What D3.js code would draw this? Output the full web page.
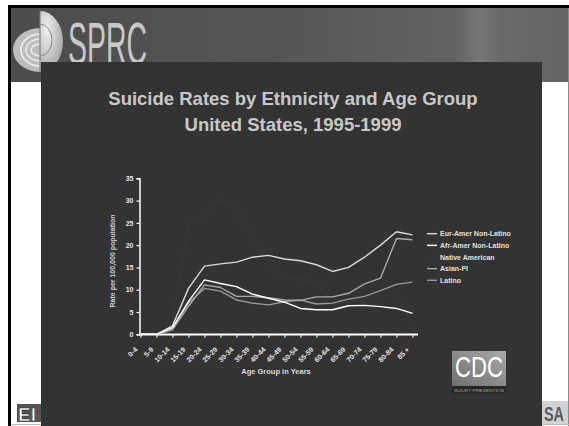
<!DOCTYPE html>
<html>
<head>
<meta charset="utf-8">
<script src="https://cdn.jsdelivr.net/npm/d3@7"></script>
<style>
  html, body { margin: 0; padding: 0; background: #fff; }
  svg { display: block; }
  text { font-family: "Liberation Sans", Arial, sans-serif; }
</style>
</head>
<body>
<div id="chart"></div>
<script>
const ageGroups = ["0-4", "5-9", "10-14", "15-19", "20-24", "25-29", "30-34", "35-39", "40-44",
  "45-49", "50-54", "55-59", "60-64", "65-69", "70-74", "75-79", "80-84", "85 +"];
const seriesNames = ["Eur-Amer Non-Latino", "Afr-Amer Non-Latino", "Native American", "Asian-PI", "Latino"];
const eurAmer  = [0, 0, 1.9, 10.3, 15.3, 15.8, 16.2, 17.3, 17.7, 16.9, 16.5, 15.6, 14.1, 15.0, 17.3, 20.0, 23.0, 22.3];
const afrAmer  = [0, 0, 1.5, 7.4, 12.2, 11.4, 10.7, 9.0, 8.1, 7.2, 5.8, 5.5, 5.5, 6.4, 6.5, 6.2, 5.8, 4.7];
const nativeAm = [0, 0, 2.5, 24.9, 27.0, 30.1, 27.9, 21.9, 15.2, 12.9, 12.3, 11.4, 7.5, 7.0, 8.0, 8.5, 9.2, 1.7];
const asianPI  = [0, 0, 1.0, 6.3, 11.1, 10.5, 8.5, 8.5, 8.2, 7.7, 7.6, 8.4, 8.4, 9.2, 11.3, 12.6, 21.5, 21.2];
const latino   = [0, 0, 1.2, 7.0, 10.3, 9.7, 7.7, 7.0, 6.6, 7.3, 7.7, 6.8, 7.0, 7.9, 8.5, 9.8, 11.2, 11.7];
const yTicks = [0, 5, 10, 15, 20, 25, 30, 35];

const colorMap = {
  "Eur-Amer Non-Latino": "#dadada",
  "Afr-Amer Non-Latino": "#ffffff",
  "Native American": "#383838",
  "Asian-PI": "#a8a8a8",
  "Latino": "#999999"
};

const drawSlide = (svg) => {
  const defs = svg.append("defs");
  const hg = defs.append("linearGradient").attr("id", "header-grad");
  [[0, "#4c4c4c"], [0.5, "#565656"], [0.8, "#636363"], [0.84, "#777"], [0.88, "#6a6a6a"], [1, "#636363"]]
    .forEach(([o, c]) => hg.append("stop").attr("offset", o).attr("stop-color", c));
  const lg = defs.append("radialGradient").attr("id", "logo-grad").attr("cx", 0.3).attr("cy", 0.3).attr("r", 0.9);
  lg.append("stop").attr("offset", 0).attr("stop-color", "#f0f0f0");
  lg.append("stop").attr("offset", 1).attr("stop-color", "#9a9a9a");
  const cg = defs.append("linearGradient").attr("id", "cdc-grad").attr("x1", 0).attr("y1", 1).attr("x2", 1).attr("y2", 0);
  cg.append("stop").attr("offset", 0).attr("stop-color", "#707070");
  cg.append("stop").attr("offset", 1).attr("stop-color", "#a8a8a8");

  // frame and header band
  svg.append("rect").attr("x", 8).attr("y", 5).attr("width", 561).attr("height", 3).attr("fill", "#000");
  svg.append("rect").attr("x", 8).attr("y", 5).attr("width", 3).attr("height", 421).attr("fill", "#000");
  svg.append("rect").attr("x", 11).attr("y", 8).attr("width", 557).attr("height", 74).attr("fill", "url(#header-grad)");
  svg.append("line").attr("x1", 568.5).attr("x2", 568.5).attr("y1", 8).attr("y2", 426)
    .attr("stroke", "#8a8a8a").attr("stroke-width", 1);
  svg.append("line").attr("x1", 11).attr("x2", 569).attr("y1", 424.5).attr("y2", 424.5)
    .attr("stroke", "#bbb").attr("stroke-width", 1);

  // SPRC logo
  const logo = svg.append("g");
  logo.append("path").attr("d", "M40,28 A27,22 0 0 0 40,72 Z").attr("fill", "#bdbdbd");
  [6, 11, 16].forEach(r => logo.append("path")
    .attr("d", `M40,${50 - r} A${r + 3},${r} 0 0 0 40,${50 + r}`)
    .attr("fill", "none").attr("stroke", "#eee").attr("stroke-width", 1.5));
  logo.append("path").attr("d", "M40,11 A23,30.5 0 0 1 40,72 Z").attr("fill", "url(#logo-grad)");
  logo.append("path").attr("d", "M40,24 A12,16 0 0 1 40,56").attr("fill", "none")
    .attr("stroke", "#888").attr("stroke-width", 1);
  logo.append("line").attr("x1", 40).attr("x2", 40).attr("y1", 11).attr("y2", 72)
    .attr("stroke", "#777").attr("stroke-width", 1);
  logo.append("text").attr("x", 68).attr("y", 64)
    .attr("font-size", 60).attr("fill", "#c8c8c8")
    .attr("textLength", 79).attr("lengthAdjust", "spacingAndGlyphs")
    .text("SPRC");

  // bottom corner marks
  svg.append("rect").attr("x", 17).attr("y", 404).attr("width", 25).attr("height", 18).attr("fill", "#555");
  svg.append("text").attr("x", 18).attr("y", 421)
    .attr("font-family", "DejaVu Serif, serif").attr("font-weight", "bold").attr("font-size", 19)
    .attr("fill", "#fff").attr("stroke", "#222").attr("stroke-width", 0.6)
    .text("EI");
  svg.append("rect").attr("x", 542).attr("y", 401).attr("width", 26).attr("height", 23).attr("fill", "#d2d2d2");
  svg.append("text").attr("transform", "translate(544,421) scale(0.72,1)")
    .attr("font-size", 20).attr("font-weight", "bold").attr("fill", "#5a5a5a")
    .text("SA");

  // dark content panel
  svg.append("rect").attr("x", 41).attr("y", 62).attr("width", 501).attr("height", 364).attr("fill", "#333333");

  // CDC logo
  svg.append("rect").attr("x", 452).attr("y", 351).attr("width", 54).attr("height", 35).attr("fill", "url(#cdc-grad)");
  svg.append("text").attr("x", 455).attr("y", 377)
    .attr("font-size", 30).attr("fill", "#fff")
    .attr("textLength", 48).attr("lengthAdjust", "spacingAndGlyphs")
    .text("CDC");
  svg.append("rect").attr("x", 452).attr("y", 386).attr("width", 54).attr("height", 7).attr("fill", "#262626");
  svg.append("text").attr("x", 479).attr("y", 391.5).attr("text-anchor", "middle")
    .attr("font-size", 3.6).attr("fill", "#aaa")
    .attr("textLength", 50).attr("lengthAdjust", "spacingAndGlyphs")
    .text("INJURY PREVENTION");
};

const drawChart = () => {
  const width = 569, height = 426;
  const svg = d3.select("#chart").append("svg")
    .attr("width", width).attr("height", height)
    .attr("viewBox", [0, 0, width, height]);

  drawSlide(svg);

  svg.append("text").attr("x", 293).attr("y", 105).attr("text-anchor", "middle")
    .attr("font-size", 18.5).attr("font-weight", "bold").attr("fill", "#c8c8c8")
    .text("Suicide Rates by Ethnicity and Age Group");
  svg.append("text").attr("x", 293).attr("y", 131).attr("text-anchor", "middle")
    .attr("font-size", 18.5).attr("font-weight", "bold").attr("fill", "#c8c8c8")
    .text("United States, 1995-1999");

  const x = d3.scalePoint().domain(ageGroups).range([140.5, 412.5]);
  const y = d3.scaleLinear().domain([0, 35]).range([334.3, 178.3]);

  const series = seriesNames.map((name, i) => ({
    name,
    values: [eurAmer, afrAmer, nativeAm, asianPI, latino][i],
    color: colorMap[name]
  }));

  // y axis
  const yAxis = svg.append("g").attr("transform", "translate(139.5,0)")
    .call(d3.axisLeft(y).tickValues(yTicks).tickSize(3).tickPadding(3));
  yAxis.select(".domain").attr("stroke", "#fff").attr("stroke-width", 1.5);
  yAxis.selectAll(".tick line").attr("stroke", "#fff").attr("stroke-width", 1.2);
  yAxis.selectAll(".tick text").attr("fill", "#e6e6e6").attr("font-size", 7).attr("font-weight", "bold")
    .attr("font-family", "Liberation Sans, Arial, sans-serif");

  // x axis
  const xAxis = svg.append("g").attr("transform", "translate(0,334.5)")
    .call(d3.axisBottom(x).tickSize(3).tickSizeOuter(0).tickFormat(""));
  xAxis.select(".domain").remove();
  xAxis.append("line").attr("x1", 139).attr("x2", 418).attr("stroke", "#fff").attr("stroke-width", 2);
  xAxis.selectAll(".tick line").attr("stroke", "#fff").attr("stroke-width", 1.2);

  svg.append("g").selectAll("text")
    .data(ageGroups)
    .join("text")
    .attr("transform", d => `translate(${x(d) - 2.5},350) rotate(-45)`)
    .attr("text-anchor", "end")
    .attr("font-size", 7).attr("font-weight", "bold").attr("fill", "#e6e6e6")
    .text(d => d);

  svg.append("text").attr("x", 276).attr("y", 374).attr("text-anchor", "middle")
    .attr("font-size", 7.5).attr("font-weight", "bold").attr("fill", "#dcdcdc")
    .text("Age Group in Years");

  svg.append("text").attr("transform", "translate(115,261) rotate(-90)").attr("text-anchor", "middle")
    .attr("font-size", 7).attr("font-weight", "bold").attr("fill", "#cfcfcf")
    .text("Rate per 100,000 population");

  const line = d3.line()
    .x((d, i) => x(ageGroups[i]))
    .y(d => y(d));

  const drawOrder = ["Native American", "Latino", "Asian-PI", "Eur-Amer Non-Latino", "Afr-Amer Non-Latino"];
  svg.append("g").selectAll("path")
    .data(drawOrder.map(n => series.find(s => s.name === n)))
    .join("path")
    .attr("fill", "none")
    .attr("stroke", d => d.color)
    .attr("stroke-width", 1.4)
    .attr("stroke-linejoin", "round")
    .attr("d", d => line(d.values));

  // legend
  const legend = svg.append("g").attr("transform", "translate(427,233.7)");
  const row = legend.selectAll("g")
    .data(series)
    .join("g")
    .attr("transform", (d, i) => `translate(0,${i * 11.65})`);
  row.append("line").attr("x1", 0).attr("x2", 10)
    .attr("stroke", d => d.color).attr("stroke-width", 1.4);
  row.append("text").attr("x", 13).attr("y", 2.5)
    .attr("font-size", 7).attr("font-weight", "bold").attr("fill", "#e0e0e0")
    .text(d => d.name);
};

drawChart();
</script>
</body>
</html>
